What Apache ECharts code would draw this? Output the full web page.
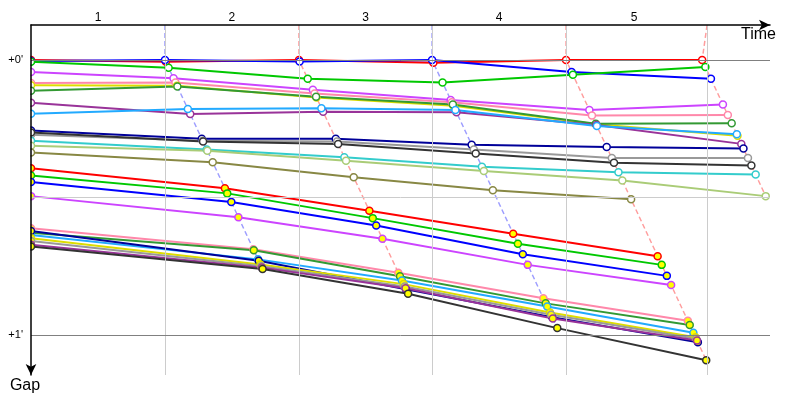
<!DOCTYPE html>
<html><head><meta charset="utf-8">
<script src="https://cdn.jsdelivr.net/npm/echarts@6/dist/echarts.min.js"></script>
<style>html,body{margin:0;padding:0;background:#fff}#c{width:800px;height:400px}</style>
</head><body><div id="c"></div>
<script>
// ---- data (time and gap in seconds) ----
const lapLabels = ['1', '2', '3', '4', '5'];
const leaderTimes = [62.6, 125.2, 187.4, 250.0, 313.6];
const gridTimes = [62.6, 125.2, 187.4, 250.0, 315.9];
const gapTicks = [0, 60];
const gapGrid = [0, 30, 60];
const timeRange = [0, 345.3];
const gapRange = [-7.64, 68.73];

// driver order: red, blue, green, magenta, pink, yellow, dkgreen, purple, ltblue, navy, gray, black, cyan, ltgreen, olive,
//               red2, green2, blue2, magenta2, pink2, dkgreen2, ltblue2, navy2, yellow2, gray2, purple2, black2
const startGaps = [0, 0.2, 0.4, 2.6, 5.0, 5.5, 6.7, 9.3, 11.7, 15.4, 16.3, 15.8, 17.6, 18.7, 20.2,
  23.6, 25.2, 26.6, 29.7, 36.7, 37.7, 38.2, 37.3, 38.9, 39.5, 40.3, 40.7];
const lap1Gaps = [0.4, 0, 1.7, 4.0, 4.9, 5.6, 5.8, 11.8, 10.7, 17.2, 17.6, 17.8, 19.5, 19.8, 22.3,
  28.0, 29.1, 31.0, 34.3, 41.3, 41.5, 43.5, 43.8, 44.6, 45.0, 45.3, 45.6];
const lap2Gaps = [0, 0.3, 4.1, 6.5, 7.3, 8.2, 8.0, 11.3, 10.5, 17.2, 17.8, 18.3, 21.2, 22.0, 25.6,
  32.9, 34.5, 36.1, 39.0, 46.4, 47.2, 48.1, 50.0, 48.9, 49.4, 49.8, 51.0];
const lap3Gaps = [0.6, 0, 4.9, 8.7, 9.2, 10.0, 9.7, 11.4, 10.9, 18.5, 19.5, 20.4, 23.3, 24.2, 28.4,
  37.9, 40.1, 42.4, 44.7, 52.0, 53.1, 53.8, 56.1, 55.1, 55.6, 56.4, 58.5];
const lap4Gaps = [0, 2.6, 3.2, 10.9, 12.1, 14.0, 13.9, 14.2, 14.4, 19.0, 21.4, 22.4, 24.5, 26.3, 30.4,
  42.8, 44.7, 47.1, 49.1, 56.9, 57.8, 59.5, 61.6, 60.5, 60.8, 61.2, 65.5];
const lap5Gaps = [0, 4.1, 1.5, 9.7, 12.0, 16.5, 13.8, 18.3, 16.2, 19.3, 21.4, 23.0, 25.0, 29.7, null,
  null, null, null, null, null, null, null, null, null, null, null, null];

// ---- styles ----
const C = {
  red: '#ff0000', blue: '#0000ff', green: '#00c800', magenta: '#cc44ff', pink: '#ff88aa',
  yellow: '#dddd00', dkgreen: '#339933', purple: '#993399', ltblue: '#22aaff', navy: '#000099',
  gray: '#999999', black: '#333333', cyan: '#33cccc', ltgreen: '#aacc77', olive: '#888844'
};
const driverColors = [C.red, C.blue, C.green, C.magenta, C.pink, C.yellow, C.dkgreen, C.purple, C.ltblue,
  C.navy, C.gray, C.black, C.cyan, C.ltgreen, C.olive,
  C.red, C.green, C.blue, C.magenta, C.pink, C.dkgreen, C.ltblue, C.navy, C.yellow, C.gray, C.purple, C.black];
const markerFill = i => (i < 15 ? '#ffffff' : '#ffff00');

function lighten(hex, f) {
  const n = parseInt(hex.slice(1), 16);
  const r = (n >> 16) & 255, g = (n >> 8) & 255, b = n & 255;
  const m = v => Math.round(v + (255 - v) * f);
  return 'rgb(' + m(r) + ',' + m(g) + ',' + m(b) + ')';
}

const laps = [lap1Gaps, lap2Gaps, lap3Gaps, lap4Gaps, lap5Gaps];
const lapLabelTimes = leaderTimes.map((t, k) => ((k === 0 ? 0 : leaderTimes[k - 1]) + t) / 2);

const series = [];
// grid lines
series.push({
  type: 'line', data: [], symbol: 'none', silent: true, z: 0,
  markLine: {
    silent: true, symbol: ['none', 'none'], label: { show: false }, animation: false,
    data: gridTimes.map(t => ({ xAxis: t, lineStyle: { color: '#cccccc', width: 1, type: 'solid' } }))
      .concat(gapGrid.map(g => ({ yAxis: g, lineStyle: { color: g % 60 === 0 ? '#808080' : '#cccccc', width: 1, type: 'solid' } })))
  }
});
// lap crossing dashed lines
laps.forEach((gaps, k) => {
  let leader = 0, maxG = 0;
  gaps.forEach((g, i) => {
    if (g == null) return;
    if (g < gaps[leader] || gaps[leader] == null) leader = i;
    if (g > maxG) maxG = g;
  });
  series.push({
    type: 'line', symbol: 'none', silent: true, z: 1,
    data: [[gridTimes[k], gapRange[0]], [leaderTimes[k], 0], [leaderTimes[k] + maxG, maxG]],
    lineStyle: { color: lighten(driverColors[leader], 0.62), width: 1.5, type: [5, 3] }
  });
});
// drivers
driverColors.forEach((col, i) => {
  const data = [[0, startGaps[i]]];
  laps.forEach((gaps, k) => {
    if (gaps[i] != null) data.push([leaderTimes[k] + gaps[i], gaps[i]]);
  });
  series.push({
    type: 'line', data: data, z: 2,
    symbol: 'circle', symbolSize: 7, showAllSymbol: true,
    lineStyle: { color: col, width: 2 },
    itemStyle: { color: markerFill(i), borderColor: col, borderWidth: 1.5 }
  });
});

const font = 'Liberation Sans, Arial, sans-serif';
const chart = echarts.init(document.getElementById('c'), null, { renderer: 'canvas' });
chart.setOption({
  animation: false,
  grid: { left: 31, right: 30, top: 25, bottom: 25, containLabel: false },
  xAxis: {
    type: 'value', position: 'top', min: timeRange[0], max: timeRange[1], z: 10,
    axisLine: { onZero: false, lineStyle: { color: '#000', width: 1.5 }, symbol: ['none', 'arrow'], symbolSize: [8, 11] },
    axisTick: { show: false }, splitLine: { show: false },
    axisLabel: {
      customValues: lapLabelTimes, margin: 1, fontSize: 12, color: '#000', fontFamily: font,
      formatter: v => {
        let best = 0;
        lapLabelTimes.forEach((t, k) => { if (Math.abs(t - v) < Math.abs(lapLabelTimes[best] - v)) best = k; });
        return lapLabels[best];
      }
    }
  },
  yAxis: {
    type: 'value', inverse: true, min: gapRange[0], max: gapRange[1], z: 10,
    axisLine: { onZero: false, lineStyle: { color: '#000', width: 1.5 }, symbol: ['arrow', 'none'], symbolSize: [8, 11] },
    axisTick: { show: false }, splitLine: { show: false },
    axisLabel: {
      customValues: gapTicks, margin: 8, fontSize: 11, color: '#000', fontFamily: font,
      formatter: v => '+' + Math.round(v / 60) + "'"
    }
  },
  graphic: [
    { type: 'rect', z: 5, silent: true, shape: { x: 0, y: 26, width: 30.5, height: 340 }, style: { fill: '#ffffff' } },
    { type: 'text', z: 11, x: 776, y: 35, style: { text: 'Time', font: '16px ' + font, fill: '#000', align: 'right', verticalAlign: 'middle' } },
    { type: 'text', z: 11, x: 25, y: 386, style: { text: 'Gap', font: '16px ' + font, fill: '#000', align: 'center', verticalAlign: 'middle' } }
  ],
  series: series
});
</script>
</body></html>
